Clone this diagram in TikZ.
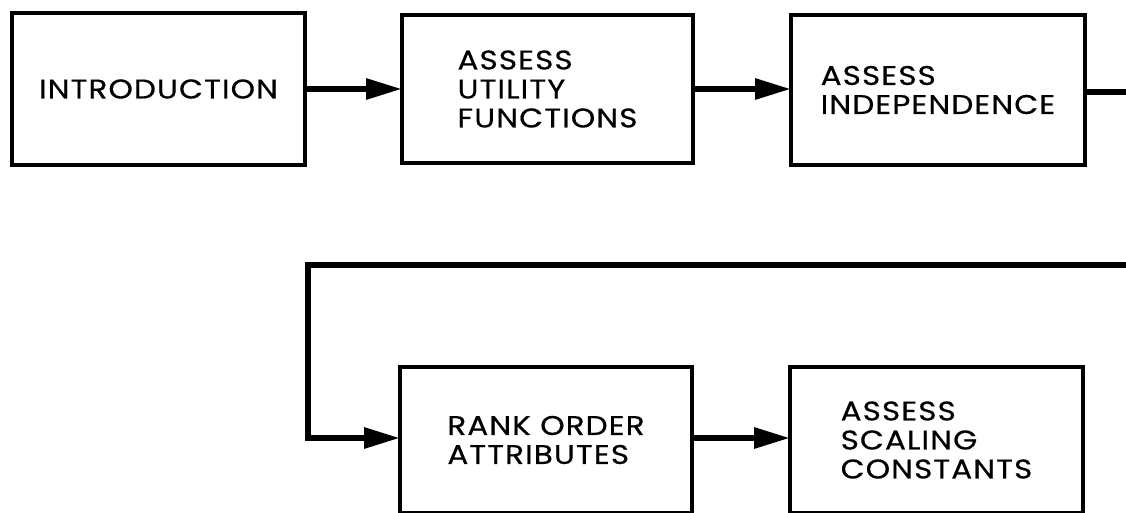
\documentclass[tikz,border=0pt]{standalone}
\usepackage{fontspec}
\setmainfont{Poppins}[FakeStretch=1.15, LetterSpace=4, FakeBold=0.5]
\usetikzlibrary{arrows.meta}

\tikzset{
  stage/.style={draw, line width=3.5pt, rectangle, minimum width=292pt,
    minimum height=150pt, inner sep=0pt, outer sep=0pt, align=left,
    font=\fontsize{27pt}{29pt}\selectfont},
  flow/.style={line width=6pt, -{Triangle[length=36pt,width=20pt]}},
  link/.style={line width=6pt}
}

\begin{document}
\begin{tikzpicture}[x=1pt,y=-1pt]
  \useasboundingbox (0,0) rectangle (1126,512);
  \clip (0,0) rectangle (1126,512);

  % upper row
  \node[stage, minimum width=293pt, minimum height=152pt] (intro) at (158.5,89) {INTRODUCTION};
  \node[stage, minimum width=291pt, minimum height=148pt] (util) at (547.5,89) {ASSESS\\UTILITY\\FUNCTIONS};
  \node[stage, minimum width=294pt] (indep) at (938,90) {ASSESS\\INDEPENDENCE};

  % lower row (runs past the bottom edge)
  \node[stage, minimum height=146pt] (rank) at (546,440) {RANK ORDER\\ATTRIBUTES};
  \node[stage, minimum width=293pt, minimum height=146pt] (scale) at (936.5,440) {ASSESS\\SCALING\\CONSTANTS};

  % off-page continuation points
  \coordinate (outR) at (1130,92);
  \coordinate (inR) at (1130,265);
  \coordinate (turn) at (308,265);

  \draw[flow] (intro.east |- 0,89) -- (util.west |- 0,89);
  \draw[flow] (util.east |- 0,89) -- (indep.west |- 0,89);
  \draw[link] (indep.east |- outR) -- (outR);
  \draw[flow] (inR) -- (turn) |- (rank.west |- 0,438);
  \draw[flow] (rank.east |- 0,438) -- (scale.west |- 0,438);
\end{tikzpicture}
\end{document}
